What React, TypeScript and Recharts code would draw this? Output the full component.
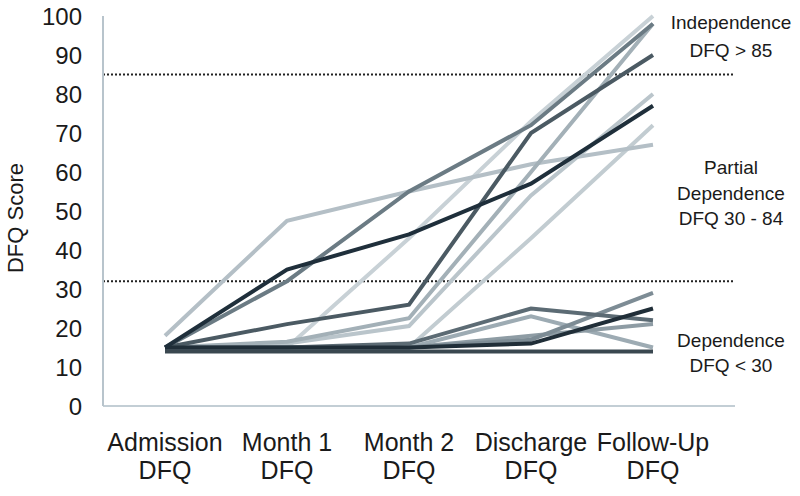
import React from 'react';
import { LineChart, Line, XAxis, YAxis, ReferenceLine } from 'recharts';

const categories = ['Admission DFQ', 'Month 1 DFQ', 'Month 2 DFQ', 'Discharge DFQ', 'Follow-Up DFQ'];
const yTicks = [0, 10, 20, 30, 40, 50, 60, 70, 80, 90, 100];
const thresholds = [85, 32];

const pA = [18, 47.5, 55, 62, 67];
const pB = [15, 35, 44, 57, 77];
const pC = [15, 32, 55, 72, 98];
const pD = [15, 21, 26, 70, 90];
const pE = [15, 15, 43, 73, 100];
const pF = [15, 16.5, 22.5, 60, 98];
const pG = [15, 16, 20.5, 54, 80];
const pH = [15, 15, 15, 43, 72];
const pI = [15, 15, 16, 25, 22];
const pJ = [15, 15, 15, 23, 15];
const pK = [15, 15, 15, 16, 25];
const pL = [15, 15, 15, 17, 29];
const pM = [15, 15, 15, 18, 21];
const pN = [14, 14, 14, 14, 14];

const seriesList = [
  { key: 'E', values: pE, color: '#c8d1d6' },
  { key: 'H', values: pH, color: '#c2ccd1' },
  { key: 'G', values: pG, color: '#bac5cb' },
  { key: 'A', values: pA, color: '#b4bfc6' },
  { key: 'F', values: pF, color: '#a3b0b7' },
  { key: 'J', values: pJ, color: '#9dabb3' },
  { key: 'M', values: pM, color: '#8e9ca4' },
  { key: 'L', values: pL, color: '#7d8c95' },
  { key: 'C', values: pC, color: '#6b7b84' },
  { key: 'I', values: pI, color: '#5c6b74' },
  { key: 'D', values: pD, color: '#4b5a63' },
  { key: 'N', values: pN, color: '#3a4850' },
  { key: 'K', values: pK, color: '#202e38' },
  { key: 'B', values: pB, color: '#1f2f3b' },
];

const data = categories.map((c, i) => {
  const row: any = { name: c };
  seriesList.forEach((s) => {
    row[s.key] = s.values[i];
  });
  return row;
});

const FONT = '"Liberation Sans", Arial, Helvetica, sans-serif';

const XTick = (props: any) => {
  const { x, y, payload } = props;
  const label: string = payload.value;
  const idx = label.lastIndexOf(' ');
  const l1 = label.slice(0, idx);
  const l2 = label.slice(idx + 1);
  return (
    <g>
      <text x={x} y={y + 45} textAnchor="middle" fontSize={25} fill="#1a1a1a" fontFamily={FONT}>
        {l1}
      </text>
      <text x={x} y={y + 73} textAnchor="middle" fontSize={25} fill="#1a1a1a" fontFamily={FONT}>
        {l2}
      </text>
    </g>
  );
};

const noteStyle: React.CSSProperties = {
  position: 'absolute',
  width: 160,
  textAlign: 'center',
  fontFamily: FONT,
  fontSize: 19,
  color: '#1a1a1a',
};

export default function App() {
  return (
    <div style={{ position: 'absolute', left: 0, top: 0, width: 800, height: 496, background: '#fff' }}>
      <LineChart width={800} height={496} data={data} margin={{ top: 16, right: 65, bottom: 30, left: 0 }}>
        <XAxis
          dataKey="name"
          height={60}
          padding={{ left: 62, right: 82 }}
          tick={<XTick />}
          tickLine={false}
          tickSize={0}
          tickMargin={0}
          axisLine={{ stroke: '#c3ced5', strokeWidth: 2 }}
          interval={0}
        />
        <YAxis
          width={103}
          domain={[0, 100]}
          ticks={yTicks}
          tickLine={false}
          tickSize={0}
          tickMargin={21}
          axisLine={{ stroke: '#b8c4cc', strokeWidth: 2 }}
          tick={{ fontSize: 24, fill: '#1a1a1a', fontFamily: FONT }}
        />
        {thresholds.map((t) => (
          <ReferenceLine key={t} y={t} stroke="#222" strokeWidth={2} strokeDasharray="2 2" />
        ))}
        {seriesList.map((s) => (
          <Line
            key={s.key}
            dataKey={s.key}
            type="linear"
            stroke={s.color}
            strokeWidth={4}
            dot={false}
            activeDot={false}
            isAnimationActive={false}
          />
        ))}
      </LineChart>
      <div
        style={{
          position: 'absolute',
          left: 16 - 70,
          top: 218 - 13,
          width: 140,
          height: 26,
          lineHeight: '26px',
          textAlign: 'center',
          fontFamily: FONT,
          fontSize: 22,
          color: '#1a1a1a',
          transform: 'rotate(-90deg)',
        }}
      >
        DFQ Score
      </div>
      <div style={{ ...noteStyle, left: 731 - 80, top: 9, lineHeight: '28px' }}>
        Independence
        <br />
        DFQ &gt; 85
      </div>
      <div style={{ ...noteStyle, left: 731 - 80, top: 155, lineHeight: '25.5px' }}>
        Partial
        <br />
        Dependence
        <br />
        DFQ 30 - 84
      </div>
      <div style={{ ...noteStyle, left: 731 - 80, top: 328, lineHeight: '25px' }}>
        Dependence
        <br />
        DFQ &lt; 30
      </div>
    </div>
  );
}
